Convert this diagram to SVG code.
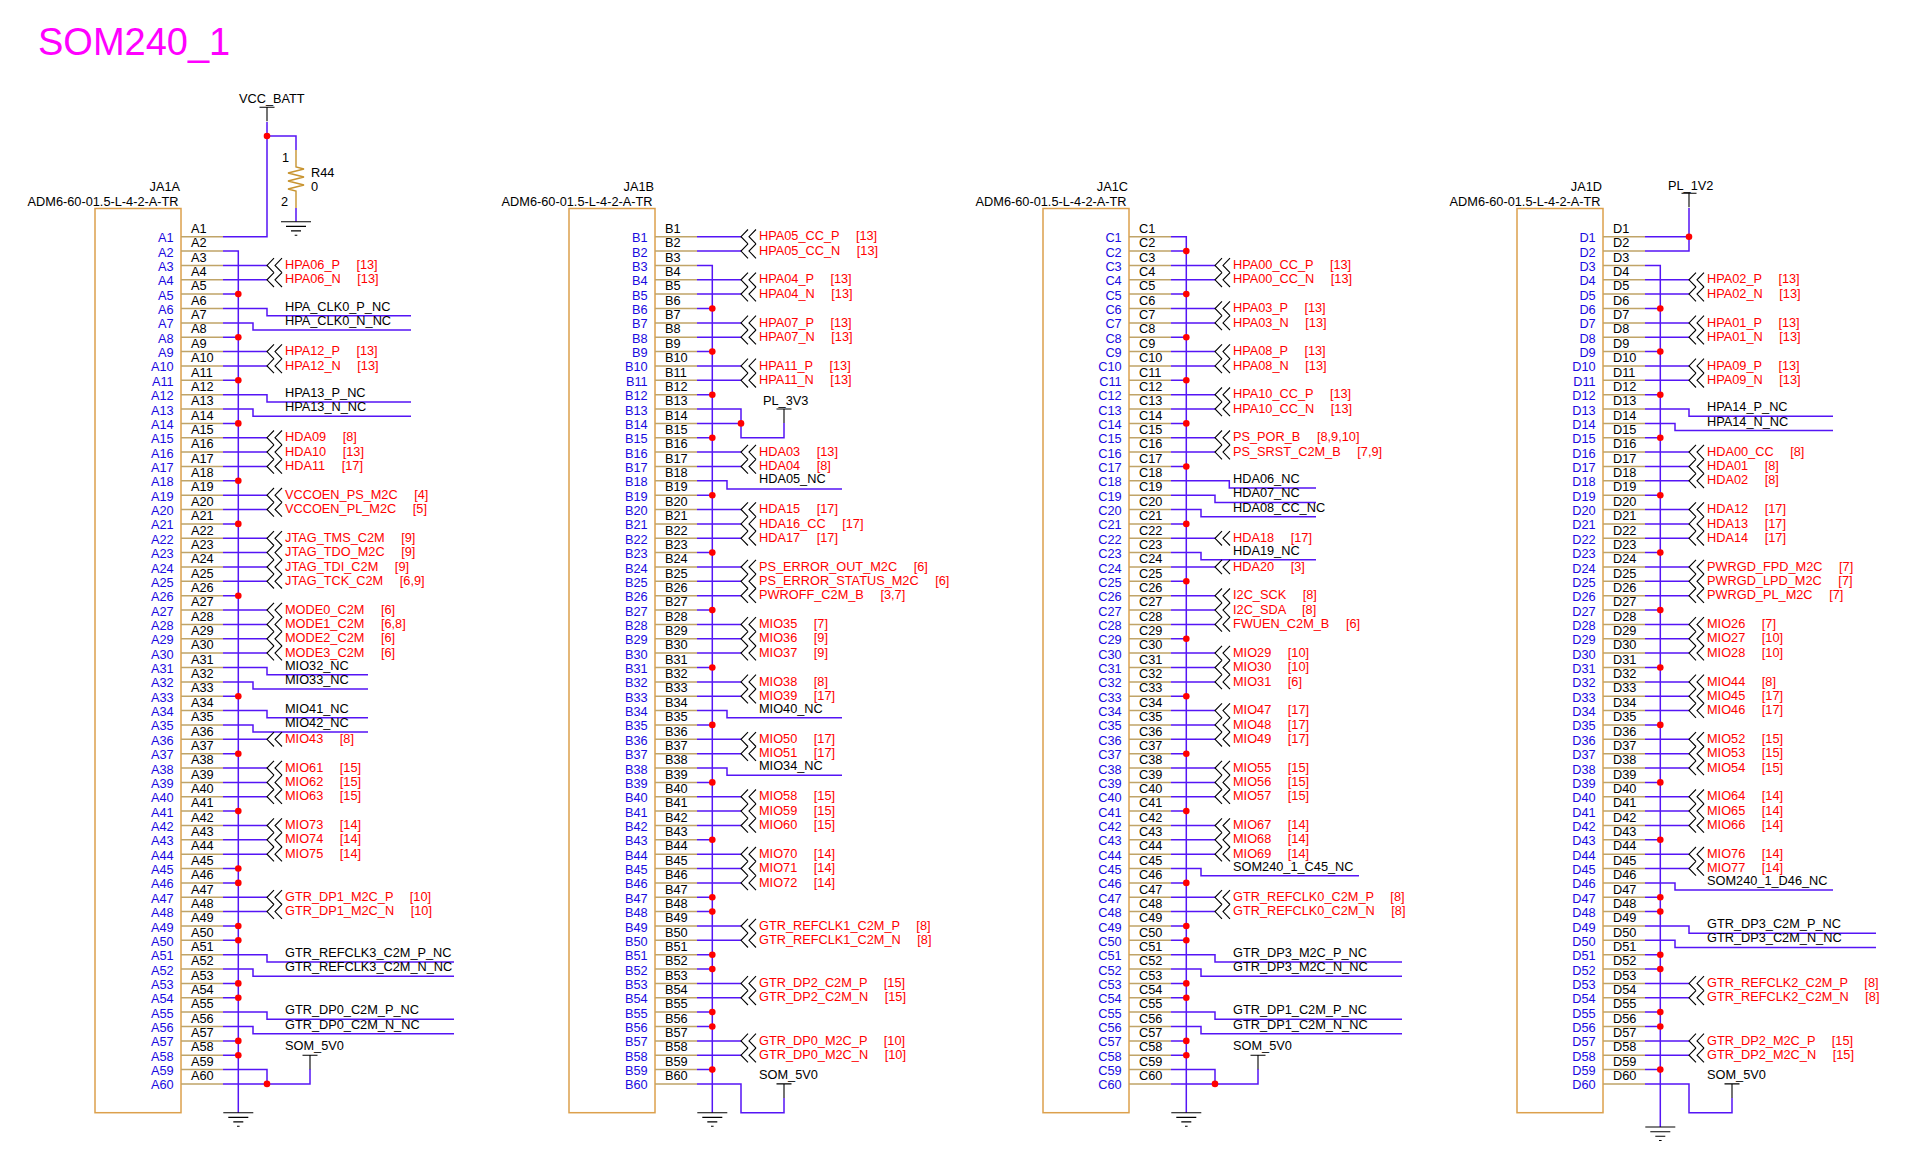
<svg xmlns="http://www.w3.org/2000/svg" width="1931" height="1169" viewBox="0 0 1931 1169">
<style>
text{font-family:"Liberation Sans",Arial,sans-serif;font-size:12.75px;fill:#000;white-space:pre}
.t{font-size:38px;fill:#f0f}
.b text{fill:#1a0ae0;text-anchor:end}
.r text{fill:#f00;word-spacing:.6px}
.e{text-anchor:end}
.w{fill:none;stroke:#5515f5;stroke-width:1.5}
.s{fill:none;stroke:#c0a468;stroke-width:1.5}
.x{fill:none;stroke:#dca04c;stroke-width:1.5}
.k{fill:none;stroke:#000;stroke-width:1.1}
.d{fill:#f00;stroke:none}
.z{fill:none;stroke:#c89430;stroke-width:1.4}
</style>
<defs>
<path id="stubs" class="s" d="M181 236.7H223M181 251.1H223M181 265.4H223M181 279.8H223M181 294.1H223M181 308.5H223M181 322.9H223M181 337.2H223M181 351.6H223M181 365.9H223M181 380.3H223M181 394.7H223M181 409H223M181 423.4H223M181 437.7H223M181 452.1H223M181 466.5H223M181 480.8H223M181 495.2H223M181 509.5H223M181 523.9H223M181 538.3H223M181 552.6H223M181 567H223M181 581.3H223M181 595.7H223M181 610.1H223M181 624.4H223M181 638.8H223M181 653.1H223M181 667.5H223M181 681.9H223M181 696.2H223M181 710.6H223M181 724.9H223M181 739.3H223M181 753.7H223M181 768H223M181 782.4H223M181 796.7H223M181 811.1H223M181 825.5H223M181 839.8H223M181 854.2H223M181 868.5H223M181 882.9H223M181 897.3H223M181 911.6H223M181 926H223M181 940.3H223M181 954.7H223M181 969.1H223M181 983.4H223M181 997.8H223M181 1012.1H223M181 1026.5H223M181 1040.9H223M181 1055.2H223M181 1069.6H223M181 1083.9H223"/>
<path id="ch" class="k" d="M7 -7.2L0 0L7 7.2M15 -7.2L8 0L15 7.2"/>
<path id="tee" class="k" d="M-7.5 0H7.5M0 0V14"/>
<path id="gnd" class="k" d="M-15 0H15M-10 4.7H10M-5 9.2H5M-1.3 13.5H1.3"/>
<rect id="box" class="x" x="95" y="208.5" width="86" height="904.2"/>
</defs>

<text class="t" x="38" y="55">SOM240_1</text>

<g id="connectors">
<g id="wires-A">
<path class="w" d="M223 236.7H267V122M267 136H296V150M296 208V221.7M223 251.1H238.3V1112.7M223 294.1H238.3M223 337.2H238.3M223 380.3H238.3M223 423.4H238.3M223 480.8H238.3M223 523.9H238.3M223 595.7H238.3M223 696.2H238.3M223 753.7H238.3M223 811.1H238.3M223 868.5H238.3M223 882.9H238.3M223 926H238.3M223 940.3H238.3M223 983.4H238.3M223 997.8H238.3M223 1040.9H238.3M223 1055.2H238.3"/>
<path class="w" d="M223 265.4H267M223 279.8H267M223 351.6H267M223 365.9H267M223 437.7H267M223 452.1H267M223 466.5H267M223 495.2H267M223 509.5H267M223 538.3H267M223 552.6H267M223 567H267M223 581.3H267M223 610.1H267M223 624.4H267M223 638.8H267M223 653.1H267M223 739.3H267M223 768H267M223 782.4H267M223 796.7H267M223 825.5H267M223 839.8H267M223 854.2H267M223 897.3H267M223 911.6H267"/>
<path class="w" d="M223 308.5H267V315.7H411M223 322.9H253V330.1H411M223 394.7H267V401.9H411M223 409H253V416.2H411M223 667.5H267V674.7H368M223 681.9H253V689.1H368M223 710.6H267V717.8H368M223 724.9H253V732.1H368M223 954.7H267V961.9H454M223 969.1H253V976.3H454M223 1012.1H267V1019.3H454M223 1026.5H253V1033.7H454M223 1069.6H267V1083.9M223 1083.9H310V1069"/>
<g class="d"><circle cx="267" cy="136" r="3.3"/><circle cx="267" cy="1083.9" r="3.3"/><circle cx="238.3" cy="294.1" r="3.3"/><circle cx="238.3" cy="337.2" r="3.3"/><circle cx="238.3" cy="380.3" r="3.3"/><circle cx="238.3" cy="423.4" r="3.3"/><circle cx="238.3" cy="480.8" r="3.3"/><circle cx="238.3" cy="523.9" r="3.3"/><circle cx="238.3" cy="595.7" r="3.3"/><circle cx="238.3" cy="696.2" r="3.3"/><circle cx="238.3" cy="753.7" r="3.3"/><circle cx="238.3" cy="811.1" r="3.3"/><circle cx="238.3" cy="868.5" r="3.3"/><circle cx="238.3" cy="882.9" r="3.3"/><circle cx="238.3" cy="926" r="3.3"/><circle cx="238.3" cy="940.3" r="3.3"/><circle cx="238.3" cy="983.4" r="3.3"/><circle cx="238.3" cy="997.8" r="3.3"/><circle cx="238.3" cy="1040.9" r="3.3"/><circle cx="238.3" cy="1055.2" r="3.3"/></g>
</g>
<g id="wires-B" transform="translate(474,0)">
<path class="w" d="M223 265.4H238.3V1112.7M223 308.5H238.3M223 351.6H238.3M223 394.7H238.3M223 437.7H238.3M223 495.2H238.3M223 552.6H238.3M223 610.1H238.3M223 667.5H238.3M223 724.9H238.3M223 782.4H238.3M223 839.8H238.3M223 897.3H238.3M223 911.6H238.3M223 954.7H238.3M223 969.1H238.3M223 1012.1H238.3M223 1026.5H238.3M223 1069.6H238.3"/>
<path class="w" d="M223 236.7H267M223 251.1H267M223 279.8H267M223 294.1H267M223 322.9H267M223 337.2H267M223 365.9H267M223 380.3H267M223 452.1H267M223 466.5H267M223 509.5H267M223 523.9H267M223 538.3H267M223 567H267M223 581.3H267M223 595.7H267M223 624.4H267M223 638.8H267M223 653.1H267M223 681.9H267M223 696.2H267M223 739.3H267M223 753.7H267M223 796.7H267M223 811.1H267M223 825.5H267M223 854.2H267M223 868.5H267M223 882.9H267M223 926H267M223 940.3H267M223 983.4H267M223 997.8H267M223 1040.9H267M223 1055.2H267"/>
<path class="w" d="M223 409H267V437.7H310V423M223 423.4H267M223 480.8H253V489.1H368M223 710.6H253V717.8H368M223 768H253V775.2H368M223 1083.9H267V1112.7H310V1098"/>
<g class="d"><circle cx="267" cy="423.4" r="3.3"/><circle cx="238.3" cy="308.5" r="3.3"/><circle cx="238.3" cy="351.6" r="3.3"/><circle cx="238.3" cy="394.7" r="3.3"/><circle cx="238.3" cy="437.7" r="3.3"/><circle cx="238.3" cy="495.2" r="3.3"/><circle cx="238.3" cy="552.6" r="3.3"/><circle cx="238.3" cy="610.1" r="3.3"/><circle cx="238.3" cy="667.5" r="3.3"/><circle cx="238.3" cy="724.9" r="3.3"/><circle cx="238.3" cy="782.4" r="3.3"/><circle cx="238.3" cy="839.8" r="3.3"/><circle cx="238.3" cy="897.3" r="3.3"/><circle cx="238.3" cy="911.6" r="3.3"/><circle cx="238.3" cy="954.7" r="3.3"/><circle cx="238.3" cy="969.1" r="3.3"/><circle cx="238.3" cy="1012.1" r="3.3"/><circle cx="238.3" cy="1026.5" r="3.3"/><circle cx="238.3" cy="1069.6" r="3.3"/></g>
</g>
<g id="wires-C" transform="translate(948,0)">
<path class="w" d="M223 236.7H238.3V1112.7M223 251.1H238.3M223 294.1H238.3M223 337.2H238.3M223 380.3H238.3M223 423.4H238.3M223 466.5H238.3M223 523.9H238.3M223 581.3H238.3M223 638.8H238.3M223 696.2H238.3M223 753.7H238.3M223 811.1H238.3M223 882.9H238.3M223 926H238.3M223 940.3H238.3M223 983.4H238.3M223 997.8H238.3M223 1040.9H238.3M223 1055.2H238.3"/>
<path class="w" d="M223 265.4H267M223 279.8H267M223 308.5H267M223 322.9H267M223 351.6H267M223 365.9H267M223 394.7H267M223 409H267M223 437.7H267M223 452.1H267M223 538.3H267M223 567H267M223 595.7H267M223 610.1H267M223 624.4H267M223 653.1H267M223 667.5H267M223 681.9H267M223 710.6H267M223 724.9H267M223 739.3H267M223 768H267M223 782.4H267M223 796.7H267M223 825.5H267M223 839.8H267M223 854.2H267M223 897.3H267M223 911.6H267"/>
<path class="w" d="M223 480.8H281.3V488H368M223 495.2H267V502.4H368M223 509.5H253V516.7H368M223 552.6H253V559.8H368M223 868.5H253V875.7H411M223 954.7H267V961.9H454M223 969.1H253V976.3H454M223 1012.1H267V1019.3H454M223 1026.5H253V1033.7H454M223 1069.6H267V1083.9M223 1083.9H310V1069"/>
<g class="d"><circle cx="267" cy="1083.9" r="3.3"/><circle cx="238.3" cy="251.1" r="3.3"/><circle cx="238.3" cy="294.1" r="3.3"/><circle cx="238.3" cy="337.2" r="3.3"/><circle cx="238.3" cy="380.3" r="3.3"/><circle cx="238.3" cy="423.4" r="3.3"/><circle cx="238.3" cy="466.5" r="3.3"/><circle cx="238.3" cy="523.9" r="3.3"/><circle cx="238.3" cy="581.3" r="3.3"/><circle cx="238.3" cy="638.8" r="3.3"/><circle cx="238.3" cy="696.2" r="3.3"/><circle cx="238.3" cy="753.7" r="3.3"/><circle cx="238.3" cy="811.1" r="3.3"/><circle cx="238.3" cy="882.9" r="3.3"/><circle cx="238.3" cy="926" r="3.3"/><circle cx="238.3" cy="940.3" r="3.3"/><circle cx="238.3" cy="983.4" r="3.3"/><circle cx="238.3" cy="997.8" r="3.3"/><circle cx="238.3" cy="1040.9" r="3.3"/><circle cx="238.3" cy="1055.2" r="3.3"/></g>
</g>
<g id="wires-D" transform="translate(1422,0)">
<path class="w" d="M223 265.4H238.3V1127M223 308.5H238.3M223 351.6H238.3M223 394.7H238.3M223 437.7H238.3M223 495.2H238.3M223 552.6H238.3M223 610.1H238.3M223 667.5H238.3M223 724.9H238.3M223 782.4H238.3M223 839.8H238.3M223 897.3H238.3M223 911.6H238.3M223 954.7H238.3M223 969.1H238.3M223 1012.1H238.3M223 1026.5H238.3M223 1069.6H238.3"/>
<path class="w" d="M223 236.7H267M223 251.1H267V208M223 279.8H267M223 294.1H267M223 322.9H267M223 337.2H267M223 365.9H267M223 380.3H267M223 452.1H267M223 466.5H267M223 480.8H267M223 509.5H267M223 523.9H267M223 538.3H267M223 567H267M223 581.3H267M223 595.7H267M223 624.4H267M223 638.8H267M223 653.1H267M223 681.9H267M223 696.2H267M223 710.6H267M223 739.3H267M223 753.7H267M223 768H267M223 796.7H267M223 811.1H267M223 825.5H267M223 854.2H267M223 868.5H267M223 983.4H267M223 997.8H267M223 1040.9H267M223 1055.2H267"/>
<path class="w" d="M223 409H267V416.2H411M223 423.4H253V430.6H411M223 882.9H253V890.1H411M223 926H267V933.2H454M223 940.3H253V947.5H454M223 1083.9H267V1112.7H310V1098"/>
<g class="d"><circle cx="267" cy="236.7" r="3.3"/><circle cx="238.3" cy="308.5" r="3.3"/><circle cx="238.3" cy="351.6" r="3.3"/><circle cx="238.3" cy="394.7" r="3.3"/><circle cx="238.3" cy="437.7" r="3.3"/><circle cx="238.3" cy="495.2" r="3.3"/><circle cx="238.3" cy="552.6" r="3.3"/><circle cx="238.3" cy="610.1" r="3.3"/><circle cx="238.3" cy="667.5" r="3.3"/><circle cx="238.3" cy="724.9" r="3.3"/><circle cx="238.3" cy="782.4" r="3.3"/><circle cx="238.3" cy="839.8" r="3.3"/><circle cx="238.3" cy="897.3" r="3.3"/><circle cx="238.3" cy="911.6" r="3.3"/><circle cx="238.3" cy="954.7" r="3.3"/><circle cx="238.3" cy="969.1" r="3.3"/><circle cx="238.3" cy="1012.1" r="3.3"/><circle cx="238.3" cy="1026.5" r="3.3"/><circle cx="238.3" cy="1069.6" r="3.3"/></g>
</g>
</g>

<g id="R44">
<path class="z" d="M296 150V167L304 169L288 173L304 177L288 181L304 185L288 189L296 191V208"/>
<text x="282" y="162">1</text><text x="281" y="205.7">2</text><text x="311" y="176.7">R44</text><text x="311" y="190.7">0</text>
<use href="#gnd" x="296" y="221.7"/>
</g>
<g id="VCC_BATT"><text x="239" y="103">VCC_BATT</text><use href="#tee" x="267" y="107.3"/></g>

<g id="JA1A">
<use href="#box"/><use href="#stubs"/>
<text class="e" x="180" y="191">JA1A</text><text class="e" x="178.5" y="205.7">ADM6-60-01.5-L-4-2-A-TR</text>
<g class="b" transform="translate(173.7,5.5)"><text y="236.7">A1</text><text y="251.1">A2</text><text y="265.4">A3</text><text y="279.8">A4</text><text y="294.1">A5</text><text y="308.5">A6</text><text y="322.9">A7</text><text y="337.2">A8</text><text y="351.6">A9</text><text y="365.9">A10</text><text y="380.3">A11</text><text y="394.7">A12</text><text y="409">A13</text><text y="423.4">A14</text><text y="437.7">A15</text><text y="452.1">A16</text><text y="466.5">A17</text><text y="480.8">A18</text><text y="495.2">A19</text><text y="509.5">A20</text><text y="523.9">A21</text><text y="538.3">A22</text><text y="552.6">A23</text><text y="567">A24</text><text y="581.3">A25</text><text y="595.7">A26</text><text y="610.1">A27</text><text y="624.4">A28</text><text y="638.8">A29</text><text y="653.1">A30</text><text y="667.5">A31</text><text y="681.9">A32</text><text y="696.2">A33</text><text y="710.6">A34</text><text y="724.9">A35</text><text y="739.3">A36</text><text y="753.7">A37</text><text y="768">A38</text><text y="782.4">A39</text><text y="796.7">A40</text><text y="811.1">A41</text><text y="825.5">A42</text><text y="839.8">A43</text><text y="854.2">A44</text><text y="868.5">A45</text><text y="882.9">A46</text><text y="897.3">A47</text><text y="911.6">A48</text><text y="926">A49</text><text y="940.3">A50</text><text y="954.7">A51</text><text y="969.1">A52</text><text y="983.4">A53</text><text y="997.8">A54</text><text y="1012.1">A55</text><text y="1026.5">A56</text><text y="1040.9">A57</text><text y="1055.2">A58</text><text y="1069.6">A59</text><text y="1083.9">A60</text></g>
<g transform="translate(191,-3.7)"><text y="236.7">A1</text><text y="251.1">A2</text><text y="265.4">A3</text><text y="279.8">A4</text><text y="294.1">A5</text><text y="308.5">A6</text><text y="322.9">A7</text><text y="337.2">A8</text><text y="351.6">A9</text><text y="365.9">A10</text><text y="380.3">A11</text><text y="394.7">A12</text><text y="409">A13</text><text y="423.4">A14</text><text y="437.7">A15</text><text y="452.1">A16</text><text y="466.5">A17</text><text y="480.8">A18</text><text y="495.2">A19</text><text y="509.5">A20</text><text y="523.9">A21</text><text y="538.3">A22</text><text y="552.6">A23</text><text y="567">A24</text><text y="581.3">A25</text><text y="595.7">A26</text><text y="610.1">A27</text><text y="624.4">A28</text><text y="638.8">A29</text><text y="653.1">A30</text><text y="667.5">A31</text><text y="681.9">A32</text><text y="696.2">A33</text><text y="710.6">A34</text><text y="724.9">A35</text><text y="739.3">A36</text><text y="753.7">A37</text><text y="768">A38</text><text y="782.4">A39</text><text y="796.7">A40</text><text y="811.1">A41</text><text y="825.5">A42</text><text y="839.8">A43</text><text y="854.2">A44</text><text y="868.5">A45</text><text y="882.9">A46</text><text y="897.3">A47</text><text y="911.6">A48</text><text y="926">A49</text><text y="940.3">A50</text><text y="954.7">A51</text><text y="969.1">A52</text><text y="983.4">A53</text><text y="997.8">A54</text><text y="1012.1">A55</text><text y="1026.5">A56</text><text y="1040.9">A57</text><text y="1055.2">A58</text><text y="1069.6">A59</text><text y="1083.9">A60</text></g>
<g class="r" transform="translate(285,3.7)"><text y="265.4">HPA06_P    [13]</text><text y="279.8">HPA06_N    [13]</text><text y="351.6">HPA12_P    [13]</text><text y="365.9">HPA12_N    [13]</text><text y="437.7">HDA09    [8]</text><text y="452.1">HDA10    [13]</text><text y="466.5">HDA11    [17]</text><text y="495.2">VCCOEN_PS_M2C    [4]</text><text y="509.5">VCCOEN_PL_M2C    [5]</text><text y="538.3">JTAG_TMS_C2M    [9]</text><text y="552.6">JTAG_TDO_M2C    [9]</text><text y="567">JTAG_TDI_C2M    [9]</text><text y="581.3">JTAG_TCK_C2M    [6,9]</text><text y="610.1">MODE0_C2M    [6]</text><text y="624.4">MODE1_C2M    [6,8]</text><text y="638.8">MODE2_C2M    [6]</text><text y="653.1">MODE3_C2M    [6]</text><text y="739.3">MIO43    [8]</text><text y="768">MIO61    [15]</text><text y="782.4">MIO62    [15]</text><text y="796.7">MIO63    [15]</text><text y="825.5">MIO73    [14]</text><text y="839.8">MIO74    [14]</text><text y="854.2">MIO75    [14]</text><text y="897.3">GTR_DP1_M2C_P    [10]</text><text y="911.6">GTR_DP1_M2C_N    [10]</text></g>
<g transform="translate(285,2.2)"><text y="308.5">HPA_CLK0_P_NC</text><text y="322.9">HPA_CLK0_N_NC</text><text y="394.7">HPA13_P_NC</text><text y="409">HPA13_N_NC</text><text y="667.5">MIO32_NC</text><text y="681.9">MIO33_NC</text><text y="710.6">MIO41_NC</text><text y="724.9">MIO42_NC</text><text y="954.7">GTR_REFCLK3_C2M_P_NC</text><text y="969.1">GTR_REFCLK3_C2M_N_NC</text><text y="1012.1">GTR_DP0_C2M_P_NC</text><text y="1026.5">GTR_DP0_C2M_N_NC</text></g>
<use href="#ch" x="267" y="265.4"/><use href="#ch" x="267" y="279.8"/><use href="#ch" x="267" y="351.6"/><use href="#ch" x="267" y="365.9"/><use href="#ch" x="267" y="437.7"/><use href="#ch" x="267" y="452.1"/><use href="#ch" x="267" y="466.5"/><use href="#ch" x="267" y="495.2"/><use href="#ch" x="267" y="509.5"/><use href="#ch" x="267" y="538.3"/><use href="#ch" x="267" y="552.6"/><use href="#ch" x="267" y="567"/><use href="#ch" x="267" y="581.3"/><use href="#ch" x="267" y="610.1"/><use href="#ch" x="267" y="624.4"/><use href="#ch" x="267" y="638.8"/><use href="#ch" x="267" y="653.1"/><use href="#ch" x="267" y="739.3"/><use href="#ch" x="267" y="768"/><use href="#ch" x="267" y="782.4"/><use href="#ch" x="267" y="796.7"/><use href="#ch" x="267" y="825.5"/><use href="#ch" x="267" y="839.8"/><use href="#ch" x="267" y="854.2"/><use href="#ch" x="267" y="897.3"/><use href="#ch" x="267" y="911.6"/>
<text x="285" y="1050">SOM_5V0</text><use href="#tee" x="310" y="1055.2"/>
<use href="#gnd" x="238.3" y="1112.7"/>
</g>

<g id="JA1B" transform="translate(474,0)">
<use href="#box"/><use href="#stubs"/>
<text class="e" x="180" y="191">JA1B</text><text class="e" x="178.5" y="205.7">ADM6-60-01.5-L-4-2-A-TR</text>
<g class="b" transform="translate(173.7,5.5)"><text y="236.7">B1</text><text y="251.1">B2</text><text y="265.4">B3</text><text y="279.8">B4</text><text y="294.1">B5</text><text y="308.5">B6</text><text y="322.9">B7</text><text y="337.2">B8</text><text y="351.6">B9</text><text y="365.9">B10</text><text y="380.3">B11</text><text y="394.7">B12</text><text y="409">B13</text><text y="423.4">B14</text><text y="437.7">B15</text><text y="452.1">B16</text><text y="466.5">B17</text><text y="480.8">B18</text><text y="495.2">B19</text><text y="509.5">B20</text><text y="523.9">B21</text><text y="538.3">B22</text><text y="552.6">B23</text><text y="567">B24</text><text y="581.3">B25</text><text y="595.7">B26</text><text y="610.1">B27</text><text y="624.4">B28</text><text y="638.8">B29</text><text y="653.1">B30</text><text y="667.5">B31</text><text y="681.9">B32</text><text y="696.2">B33</text><text y="710.6">B34</text><text y="724.9">B35</text><text y="739.3">B36</text><text y="753.7">B37</text><text y="768">B38</text><text y="782.4">B39</text><text y="796.7">B40</text><text y="811.1">B41</text><text y="825.5">B42</text><text y="839.8">B43</text><text y="854.2">B44</text><text y="868.5">B45</text><text y="882.9">B46</text><text y="897.3">B47</text><text y="911.6">B48</text><text y="926">B49</text><text y="940.3">B50</text><text y="954.7">B51</text><text y="969.1">B52</text><text y="983.4">B53</text><text y="997.8">B54</text><text y="1012.1">B55</text><text y="1026.5">B56</text><text y="1040.9">B57</text><text y="1055.2">B58</text><text y="1069.6">B59</text><text y="1083.9">B60</text></g>
<g transform="translate(191,-3.7)"><text y="236.7">B1</text><text y="251.1">B2</text><text y="265.4">B3</text><text y="279.8">B4</text><text y="294.1">B5</text><text y="308.5">B6</text><text y="322.9">B7</text><text y="337.2">B8</text><text y="351.6">B9</text><text y="365.9">B10</text><text y="380.3">B11</text><text y="394.7">B12</text><text y="409">B13</text><text y="423.4">B14</text><text y="437.7">B15</text><text y="452.1">B16</text><text y="466.5">B17</text><text y="480.8">B18</text><text y="495.2">B19</text><text y="509.5">B20</text><text y="523.9">B21</text><text y="538.3">B22</text><text y="552.6">B23</text><text y="567">B24</text><text y="581.3">B25</text><text y="595.7">B26</text><text y="610.1">B27</text><text y="624.4">B28</text><text y="638.8">B29</text><text y="653.1">B30</text><text y="667.5">B31</text><text y="681.9">B32</text><text y="696.2">B33</text><text y="710.6">B34</text><text y="724.9">B35</text><text y="739.3">B36</text><text y="753.7">B37</text><text y="768">B38</text><text y="782.4">B39</text><text y="796.7">B40</text><text y="811.1">B41</text><text y="825.5">B42</text><text y="839.8">B43</text><text y="854.2">B44</text><text y="868.5">B45</text><text y="882.9">B46</text><text y="897.3">B47</text><text y="911.6">B48</text><text y="926">B49</text><text y="940.3">B50</text><text y="954.7">B51</text><text y="969.1">B52</text><text y="983.4">B53</text><text y="997.8">B54</text><text y="1012.1">B55</text><text y="1026.5">B56</text><text y="1040.9">B57</text><text y="1055.2">B58</text><text y="1069.6">B59</text><text y="1083.9">B60</text></g>
<g class="r" transform="translate(285,3.7)"><text y="236.7">HPA05_CC_P    [13]</text><text y="251.1">HPA05_CC_N    [13]</text><text y="279.8">HPA04_P    [13]</text><text y="294.1">HPA04_N    [13]</text><text y="322.9">HPA07_P    [13]</text><text y="337.2">HPA07_N    [13]</text><text y="365.9">HPA11_P    [13]</text><text y="380.3">HPA11_N    [13]</text><text y="452.1">HDA03    [13]</text><text y="466.5">HDA04    [8]</text><text y="509.5">HDA15    [17]</text><text y="523.9">HDA16_CC    [17]</text><text y="538.3">HDA17    [17]</text><text y="567">PS_ERROR_OUT_M2C    [6]</text><text y="581.3">PS_ERROR_STATUS_M2C    [6]</text><text y="595.7">PWROFF_C2M_B    [3,7]</text><text y="624.4">MIO35    [7]</text><text y="638.8">MIO36    [9]</text><text y="653.1">MIO37    [9]</text><text y="681.9">MIO38    [8]</text><text y="696.2">MIO39    [17]</text><text y="739.3">MIO50    [17]</text><text y="753.7">MIO51    [17]</text><text y="796.7">MIO58    [15]</text><text y="811.1">MIO59    [15]</text><text y="825.5">MIO60    [15]</text><text y="854.2">MIO70    [14]</text><text y="868.5">MIO71    [14]</text><text y="882.9">MIO72    [14]</text><text y="926">GTR_REFCLK1_C2M_P    [8]</text><text y="940.3">GTR_REFCLK1_C2M_N    [8]</text><text y="983.4">GTR_DP2_C2M_P    [15]</text><text y="997.8">GTR_DP2_C2M_N    [15]</text><text y="1040.9">GTR_DP0_M2C_P    [10]</text><text y="1055.2">GTR_DP0_M2C_N    [10]</text></g>
<g transform="translate(285,2.2)"><text y="480.8">HDA05_NC</text><text y="710.6">MIO40_NC</text><text y="768">MIO34_NC</text></g>
<use href="#ch" x="267" y="236.7"/><use href="#ch" x="267" y="251.1"/><use href="#ch" x="267" y="279.8"/><use href="#ch" x="267" y="294.1"/><use href="#ch" x="267" y="322.9"/><use href="#ch" x="267" y="337.2"/><use href="#ch" x="267" y="365.9"/><use href="#ch" x="267" y="380.3"/><use href="#ch" x="267" y="452.1"/><use href="#ch" x="267" y="466.5"/><use href="#ch" x="267" y="509.5"/><use href="#ch" x="267" y="523.9"/><use href="#ch" x="267" y="538.3"/><use href="#ch" x="267" y="567"/><use href="#ch" x="267" y="581.3"/><use href="#ch" x="267" y="595.7"/><use href="#ch" x="267" y="624.4"/><use href="#ch" x="267" y="638.8"/><use href="#ch" x="267" y="653.1"/><use href="#ch" x="267" y="681.9"/><use href="#ch" x="267" y="696.2"/><use href="#ch" x="267" y="739.3"/><use href="#ch" x="267" y="753.7"/><use href="#ch" x="267" y="796.7"/><use href="#ch" x="267" y="811.1"/><use href="#ch" x="267" y="825.5"/><use href="#ch" x="267" y="854.2"/><use href="#ch" x="267" y="868.5"/><use href="#ch" x="267" y="882.9"/><use href="#ch" x="267" y="926"/><use href="#ch" x="267" y="940.3"/><use href="#ch" x="267" y="983.4"/><use href="#ch" x="267" y="997.8"/><use href="#ch" x="267" y="1040.9"/><use href="#ch" x="267" y="1055.2"/>
<text x="289" y="405">PL_3V3</text><use href="#tee" x="310" y="409"/>
<text x="285" y="1079">SOM_5V0</text><use href="#tee" x="310" y="1083.9"/>
<use href="#gnd" x="238.3" y="1112.7"/>
</g>

<g id="JA1C" transform="translate(948,0)">
<use href="#box"/><use href="#stubs"/>
<text class="e" x="180" y="191">JA1C</text><text class="e" x="178.5" y="205.7">ADM6-60-01.5-L-4-2-A-TR</text>
<g class="b" transform="translate(173.7,5.5)"><text y="236.7">C1</text><text y="251.1">C2</text><text y="265.4">C3</text><text y="279.8">C4</text><text y="294.1">C5</text><text y="308.5">C6</text><text y="322.9">C7</text><text y="337.2">C8</text><text y="351.6">C9</text><text y="365.9">C10</text><text y="380.3">C11</text><text y="394.7">C12</text><text y="409">C13</text><text y="423.4">C14</text><text y="437.7">C15</text><text y="452.1">C16</text><text y="466.5">C17</text><text y="480.8">C18</text><text y="495.2">C19</text><text y="509.5">C20</text><text y="523.9">C21</text><text y="538.3">C22</text><text y="552.6">C23</text><text y="567">C24</text><text y="581.3">C25</text><text y="595.7">C26</text><text y="610.1">C27</text><text y="624.4">C28</text><text y="638.8">C29</text><text y="653.1">C30</text><text y="667.5">C31</text><text y="681.9">C32</text><text y="696.2">C33</text><text y="710.6">C34</text><text y="724.9">C35</text><text y="739.3">C36</text><text y="753.7">C37</text><text y="768">C38</text><text y="782.4">C39</text><text y="796.7">C40</text><text y="811.1">C41</text><text y="825.5">C42</text><text y="839.8">C43</text><text y="854.2">C44</text><text y="868.5">C45</text><text y="882.9">C46</text><text y="897.3">C47</text><text y="911.6">C48</text><text y="926">C49</text><text y="940.3">C50</text><text y="954.7">C51</text><text y="969.1">C52</text><text y="983.4">C53</text><text y="997.8">C54</text><text y="1012.1">C55</text><text y="1026.5">C56</text><text y="1040.9">C57</text><text y="1055.2">C58</text><text y="1069.6">C59</text><text y="1083.9">C60</text></g>
<g transform="translate(191,-3.7)"><text y="236.7">C1</text><text y="251.1">C2</text><text y="265.4">C3</text><text y="279.8">C4</text><text y="294.1">C5</text><text y="308.5">C6</text><text y="322.9">C7</text><text y="337.2">C8</text><text y="351.6">C9</text><text y="365.9">C10</text><text y="380.3">C11</text><text y="394.7">C12</text><text y="409">C13</text><text y="423.4">C14</text><text y="437.7">C15</text><text y="452.1">C16</text><text y="466.5">C17</text><text y="480.8">C18</text><text y="495.2">C19</text><text y="509.5">C20</text><text y="523.9">C21</text><text y="538.3">C22</text><text y="552.6">C23</text><text y="567">C24</text><text y="581.3">C25</text><text y="595.7">C26</text><text y="610.1">C27</text><text y="624.4">C28</text><text y="638.8">C29</text><text y="653.1">C30</text><text y="667.5">C31</text><text y="681.9">C32</text><text y="696.2">C33</text><text y="710.6">C34</text><text y="724.9">C35</text><text y="739.3">C36</text><text y="753.7">C37</text><text y="768">C38</text><text y="782.4">C39</text><text y="796.7">C40</text><text y="811.1">C41</text><text y="825.5">C42</text><text y="839.8">C43</text><text y="854.2">C44</text><text y="868.5">C45</text><text y="882.9">C46</text><text y="897.3">C47</text><text y="911.6">C48</text><text y="926">C49</text><text y="940.3">C50</text><text y="954.7">C51</text><text y="969.1">C52</text><text y="983.4">C53</text><text y="997.8">C54</text><text y="1012.1">C55</text><text y="1026.5">C56</text><text y="1040.9">C57</text><text y="1055.2">C58</text><text y="1069.6">C59</text><text y="1083.9">C60</text></g>
<g class="r" transform="translate(285,3.7)"><text y="265.4">HPA00_CC_P    [13]</text><text y="279.8">HPA00_CC_N    [13]</text><text y="308.5">HPA03_P    [13]</text><text y="322.9">HPA03_N    [13]</text><text y="351.6">HPA08_P    [13]</text><text y="365.9">HPA08_N    [13]</text><text y="394.7">HPA10_CC_P    [13]</text><text y="409">HPA10_CC_N    [13]</text><text y="437.7">PS_POR_B    [8,9,10]</text><text y="452.1">PS_SRST_C2M_B    [7,9]</text><text y="538.3">HDA18    [17]</text><text y="567">HDA20    [3]</text><text y="595.7">I2C_SCK    [8]</text><text y="610.1">I2C_SDA    [8]</text><text y="624.4">FWUEN_C2M_B    [6]</text><text y="653.1">MIO29    [10]</text><text y="667.5">MIO30    [10]</text><text y="681.9">MIO31    [6]</text><text y="710.6">MIO47    [17]</text><text y="724.9">MIO48    [17]</text><text y="739.3">MIO49    [17]</text><text y="768">MIO55    [15]</text><text y="782.4">MIO56    [15]</text><text y="796.7">MIO57    [15]</text><text y="825.5">MIO67    [14]</text><text y="839.8">MIO68    [14]</text><text y="854.2">MIO69    [14]</text><text y="897.3">GTR_REFCLK0_C2M_P    [8]</text><text y="911.6">GTR_REFCLK0_C2M_N    [8]</text></g>
<g transform="translate(285,2.2)"><text y="480.8">HDA06_NC</text><text y="495.2">HDA07_NC</text><text y="509.5">HDA08_CC_NC</text><text y="552.6">HDA19_NC</text><text y="868.5">SOM240_1_C45_NC</text><text y="954.7">GTR_DP3_M2C_P_NC</text><text y="969.1">GTR_DP3_M2C_N_NC</text><text y="1012.1">GTR_DP1_C2M_P_NC</text><text y="1026.5">GTR_DP1_C2M_N_NC</text></g>
<use href="#ch" x="267" y="265.4"/><use href="#ch" x="267" y="279.8"/><use href="#ch" x="267" y="308.5"/><use href="#ch" x="267" y="322.9"/><use href="#ch" x="267" y="351.6"/><use href="#ch" x="267" y="365.9"/><use href="#ch" x="267" y="394.7"/><use href="#ch" x="267" y="409"/><use href="#ch" x="267" y="437.7"/><use href="#ch" x="267" y="452.1"/><use href="#ch" x="267" y="538.3"/><use href="#ch" x="267" y="567"/><use href="#ch" x="267" y="595.7"/><use href="#ch" x="267" y="610.1"/><use href="#ch" x="267" y="624.4"/><use href="#ch" x="267" y="653.1"/><use href="#ch" x="267" y="667.5"/><use href="#ch" x="267" y="681.9"/><use href="#ch" x="267" y="710.6"/><use href="#ch" x="267" y="724.9"/><use href="#ch" x="267" y="739.3"/><use href="#ch" x="267" y="768"/><use href="#ch" x="267" y="782.4"/><use href="#ch" x="267" y="796.7"/><use href="#ch" x="267" y="825.5"/><use href="#ch" x="267" y="839.8"/><use href="#ch" x="267" y="854.2"/><use href="#ch" x="267" y="897.3"/><use href="#ch" x="267" y="911.6"/>
<text x="285" y="1050">SOM_5V0</text><use href="#tee" x="310" y="1055.2"/>
<use href="#gnd" x="238.3" y="1112.7"/>
</g>

<g id="JA1D" transform="translate(1422,0)">
<use href="#box"/><use href="#stubs"/>
<text class="e" x="180" y="191">JA1D</text><text class="e" x="178.5" y="205.7">ADM6-60-01.5-L-4-2-A-TR</text>
<g class="b" transform="translate(173.7,5.5)"><text y="236.7">D1</text><text y="251.1">D2</text><text y="265.4">D3</text><text y="279.8">D4</text><text y="294.1">D5</text><text y="308.5">D6</text><text y="322.9">D7</text><text y="337.2">D8</text><text y="351.6">D9</text><text y="365.9">D10</text><text y="380.3">D11</text><text y="394.7">D12</text><text y="409">D13</text><text y="423.4">D14</text><text y="437.7">D15</text><text y="452.1">D16</text><text y="466.5">D17</text><text y="480.8">D18</text><text y="495.2">D19</text><text y="509.5">D20</text><text y="523.9">D21</text><text y="538.3">D22</text><text y="552.6">D23</text><text y="567">D24</text><text y="581.3">D25</text><text y="595.7">D26</text><text y="610.1">D27</text><text y="624.4">D28</text><text y="638.8">D29</text><text y="653.1">D30</text><text y="667.5">D31</text><text y="681.9">D32</text><text y="696.2">D33</text><text y="710.6">D34</text><text y="724.9">D35</text><text y="739.3">D36</text><text y="753.7">D37</text><text y="768">D38</text><text y="782.4">D39</text><text y="796.7">D40</text><text y="811.1">D41</text><text y="825.5">D42</text><text y="839.8">D43</text><text y="854.2">D44</text><text y="868.5">D45</text><text y="882.9">D46</text><text y="897.3">D47</text><text y="911.6">D48</text><text y="926">D49</text><text y="940.3">D50</text><text y="954.7">D51</text><text y="969.1">D52</text><text y="983.4">D53</text><text y="997.8">D54</text><text y="1012.1">D55</text><text y="1026.5">D56</text><text y="1040.9">D57</text><text y="1055.2">D58</text><text y="1069.6">D59</text><text y="1083.9">D60</text></g>
<g transform="translate(191,-3.7)"><text y="236.7">D1</text><text y="251.1">D2</text><text y="265.4">D3</text><text y="279.8">D4</text><text y="294.1">D5</text><text y="308.5">D6</text><text y="322.9">D7</text><text y="337.2">D8</text><text y="351.6">D9</text><text y="365.9">D10</text><text y="380.3">D11</text><text y="394.7">D12</text><text y="409">D13</text><text y="423.4">D14</text><text y="437.7">D15</text><text y="452.1">D16</text><text y="466.5">D17</text><text y="480.8">D18</text><text y="495.2">D19</text><text y="509.5">D20</text><text y="523.9">D21</text><text y="538.3">D22</text><text y="552.6">D23</text><text y="567">D24</text><text y="581.3">D25</text><text y="595.7">D26</text><text y="610.1">D27</text><text y="624.4">D28</text><text y="638.8">D29</text><text y="653.1">D30</text><text y="667.5">D31</text><text y="681.9">D32</text><text y="696.2">D33</text><text y="710.6">D34</text><text y="724.9">D35</text><text y="739.3">D36</text><text y="753.7">D37</text><text y="768">D38</text><text y="782.4">D39</text><text y="796.7">D40</text><text y="811.1">D41</text><text y="825.5">D42</text><text y="839.8">D43</text><text y="854.2">D44</text><text y="868.5">D45</text><text y="882.9">D46</text><text y="897.3">D47</text><text y="911.6">D48</text><text y="926">D49</text><text y="940.3">D50</text><text y="954.7">D51</text><text y="969.1">D52</text><text y="983.4">D53</text><text y="997.8">D54</text><text y="1012.1">D55</text><text y="1026.5">D56</text><text y="1040.9">D57</text><text y="1055.2">D58</text><text y="1069.6">D59</text><text y="1083.9">D60</text></g>
<g class="r" transform="translate(285,3.7)"><text y="279.8">HPA02_P    [13]</text><text y="294.1">HPA02_N    [13]</text><text y="322.9">HPA01_P    [13]</text><text y="337.2">HPA01_N    [13]</text><text y="365.9">HPA09_P    [13]</text><text y="380.3">HPA09_N    [13]</text><text y="452.1">HDA00_CC    [8]</text><text y="466.5">HDA01    [8]</text><text y="480.8">HDA02    [8]</text><text y="509.5">HDA12    [17]</text><text y="523.9">HDA13    [17]</text><text y="538.3">HDA14    [17]</text><text y="567">PWRGD_FPD_M2C    [7]</text><text y="581.3">PWRGD_LPD_M2C    [7]</text><text y="595.7">PWRGD_PL_M2C    [7]</text><text y="624.4">MIO26    [7]</text><text y="638.8">MIO27    [10]</text><text y="653.1">MIO28    [10]</text><text y="681.9">MIO44    [8]</text><text y="696.2">MIO45    [17]</text><text y="710.6">MIO46    [17]</text><text y="739.3">MIO52    [15]</text><text y="753.7">MIO53    [15]</text><text y="768">MIO54    [15]</text><text y="796.7">MIO64    [14]</text><text y="811.1">MIO65    [14]</text><text y="825.5">MIO66    [14]</text><text y="854.2">MIO76    [14]</text><text y="868.5">MIO77    [14]</text><text y="983.4">GTR_REFCLK2_C2M_P    [8]</text><text y="997.8">GTR_REFCLK2_C2M_N    [8]</text><text y="1040.9">GTR_DP2_M2C_P    [15]</text><text y="1055.2">GTR_DP2_M2C_N    [15]</text></g>
<g transform="translate(285,2.2)"><text y="409">HPA14_P_NC</text><text y="423.4">HPA14_N_NC</text><text y="882.9">SOM240_1_D46_NC</text><text y="926">GTR_DP3_C2M_P_NC</text><text y="940.3">GTR_DP3_C2M_N_NC</text></g>
<use href="#ch" x="267" y="279.8"/><use href="#ch" x="267" y="294.1"/><use href="#ch" x="267" y="322.9"/><use href="#ch" x="267" y="337.2"/><use href="#ch" x="267" y="365.9"/><use href="#ch" x="267" y="380.3"/><use href="#ch" x="267" y="452.1"/><use href="#ch" x="267" y="466.5"/><use href="#ch" x="267" y="480.8"/><use href="#ch" x="267" y="509.5"/><use href="#ch" x="267" y="523.9"/><use href="#ch" x="267" y="538.3"/><use href="#ch" x="267" y="567"/><use href="#ch" x="267" y="581.3"/><use href="#ch" x="267" y="595.7"/><use href="#ch" x="267" y="624.4"/><use href="#ch" x="267" y="638.8"/><use href="#ch" x="267" y="653.1"/><use href="#ch" x="267" y="681.9"/><use href="#ch" x="267" y="696.2"/><use href="#ch" x="267" y="710.6"/><use href="#ch" x="267" y="739.3"/><use href="#ch" x="267" y="753.7"/><use href="#ch" x="267" y="768"/><use href="#ch" x="267" y="796.7"/><use href="#ch" x="267" y="811.1"/><use href="#ch" x="267" y="825.5"/><use href="#ch" x="267" y="854.2"/><use href="#ch" x="267" y="868.5"/><use href="#ch" x="267" y="983.4"/><use href="#ch" x="267" y="997.8"/><use href="#ch" x="267" y="1040.9"/><use href="#ch" x="267" y="1055.2"/>
<text x="246" y="190">PL_1V2</text><use href="#tee" x="267" y="193.3"/>
<text x="285" y="1079">SOM_5V0</text><use href="#tee" x="310" y="1083.9"/>
<use href="#gnd" x="238.3" y="1127"/>
</g>
</svg>
